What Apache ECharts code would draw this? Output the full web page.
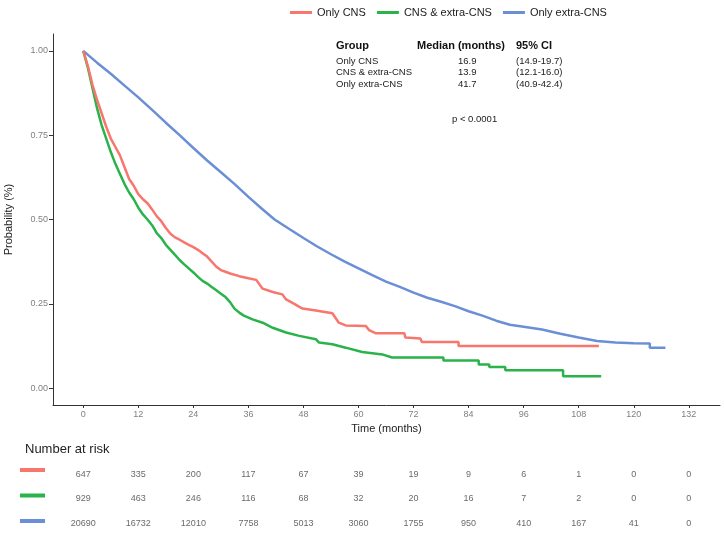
<!DOCTYPE html>
<html>
<head>
<meta charset="utf-8">
<script src="https://cdn.jsdelivr.net/npm/echarts@6/dist/echarts.min.js"></script>
<style>
  html, body { margin: 0; padding: 0; background: #fff; }
  #main { width: 724px; height: 537px; }
</style>
</head>
<body>
<div id="main"></div>
<script>
// group names and colours
const groupNames = ['Only CNS', 'CNS & extra-CNS', 'Only extra-CNS'];
const groupColors = ['#F8766D', '#2AB34A', '#6B8FD6'];

// survival curves [months, probability]
const onlyCns = [
  [0, 1], [1, 0.955], [2, 0.90], [3, 0.855], [4, 0.815], [5, 0.775], [6, 0.74], [7, 0.715],
  [8, 0.69], [9, 0.655], [10, 0.62], [11, 0.60], [12, 0.575], [13, 0.56], [14, 0.548],
  [15, 0.53], [16, 0.51], [17, 0.495], [18, 0.475], [19, 0.458], [20, 0.447], [21, 0.44],
  [22, 0.432], [23, 0.425], [24, 0.418], [25, 0.41], [26, 0.40], [27, 0.39], [28, 0.375],
  [29, 0.36], [30, 0.35], [31, 0.345], [32, 0.34], [34, 0.332], [36, 0.326], [37.7, 0.321],
  [39.1, 0.295], [41.3, 0.285], [43.4, 0.278], [44.2, 0.263], [46, 0.25], [47.1, 0.241],
  [47.8, 0.236], [50.7, 0.23], [54.3, 0.222], [55.7, 0.194], [57.2, 0.186], [61.6, 0.184],
  [62.3, 0.172], [63.7, 0.163], [70, 0.163], [70.2, 0.15], [73.5, 0.147], [73.8, 0.137],
  [81.8, 0.137], [81.8, 0.125], [112.4, 0.125]
];
const cnsExtra = [
  [0, 1], [1, 0.95], [2, 0.89], [3, 0.83], [4, 0.78], [5, 0.74], [6, 0.70], [7, 0.665],
  [8, 0.635], [9, 0.605], [10, 0.58], [11, 0.56], [12, 0.535], [13, 0.515], [14, 0.50],
  [15, 0.483], [16, 0.46], [17, 0.445], [18, 0.425], [19, 0.41], [20, 0.395], [21, 0.38],
  [22, 0.367], [23, 0.355], [24, 0.343], [25, 0.33], [26, 0.318], [27, 0.31], [28, 0.30],
  [29, 0.29], [30, 0.28], [31, 0.27], [32, 0.255], [33, 0.235], [34, 0.224], [35, 0.215],
  [36.9, 0.204], [39.1, 0.194], [41.3, 0.179], [44.2, 0.165], [47.1, 0.155], [50.7, 0.145],
  [51.4, 0.135], [54.3, 0.13], [57.2, 0.12], [60.8, 0.107], [65.2, 0.10], [67.3, 0.091],
  [78.5, 0.091], [78.5, 0.082], [86.2, 0.082], [86.2, 0.07], [88.5, 0.07], [88.5, 0.063],
  [92, 0.063], [92, 0.053], [104.6, 0.053], [104.6, 0.035], [112.9, 0.035]
];
const onlyExtra = [
  [0, 1], [3, 0.965], [6, 0.932], [9, 0.897], [12, 0.862], [15, 0.825], [18, 0.787],
  [21, 0.75], [24, 0.712], [27, 0.675], [30, 0.64], [33, 0.605], [36, 0.567], [39, 0.531],
  [41.7, 0.5], [45, 0.471], [48, 0.445], [51, 0.42], [54, 0.397], [57, 0.375], [60, 0.355],
  [63, 0.335], [66, 0.316], [69, 0.30], [72, 0.283], [75, 0.268], [78, 0.256], [81, 0.243],
  [84, 0.228], [87, 0.215], [90, 0.20], [93, 0.188], [96, 0.182], [100, 0.174], [104, 0.161],
  [108, 0.15], [112, 0.14], [116, 0.135], [120, 0.133], [123.5, 0.132], [123.5, 0.12],
  [126.9, 0.12]
];

// axis ticks
const xTicks = [0, 12, 24, 36, 48, 60, 72, 84, 96, 108, 120, 132];
const yTicks = [0, 0.25, 0.5, 0.75, 1];

// number at risk, one value per x tick
const riskOnlyCns = [647, 335, 200, 117, 67, 39, 19, 9, 6, 1, 0, 0];
const riskCnsExtra = [929, 463, 246, 116, 68, 32, 20, 16, 7, 2, 0, 0];
const riskOnlyExtra = [20690, 16732, 12010, 7758, 5013, 3060, 1755, 950, 410, 167, 41, 0];

// median table
const medians = ['16.9', '13.9', '41.7'];
const ciTexts = ['(14.9-19.7)', '(12.1-16.0)', '(40.9-42.4)'];
const pText = 'p < 0.0001';

const FONT = 'Liberation Sans, Arial, sans-serif';
const chart = echarts.init(document.getElementById('main'));

const curveSeries = [onlyCns, cnsExtra, onlyExtra].map((d, i) => ({
  name: groupNames[i],
  type: 'line',
  xAxisIndex: 0,
  yAxisIndex: 0,
  data: d,
  showSymbol: false,
  symbol: 'none',
  lineStyle: {width: 2.5, color: groupColors[i]},
  itemStyle: {color: groupColors[i]},
  silent: true,
  z: 3 - i
}));

const riskSeries = [riskOnlyCns, riskCnsExtra, riskOnlyExtra].map((r, row) => ({
  type: 'scatter',
  xAxisIndex: 1,
  yAxisIndex: 1,
  symbolSize: 1,
  itemStyle: {color: 'transparent'},
  data: r.map((n, k) => [xTicks[k], row, n]),
  label: {
    show: true,
    position: 'inside',
    formatter: p => String(p.value[2]),
    fontSize: 9,
    fontFamily: FONT,
    color: '#444'
  },
  silent: true
}));

// median table text
const tableGraphics = [];
const headStyle = {fontSize: 11, fontWeight: 'bold', fontFamily: FONT, fill: '#111', textVerticalAlign: 'middle'};
const rowStyle = {fontSize: 9.5, fontFamily: FONT, fill: '#222', textVerticalAlign: 'middle'};
tableGraphics.push({type: 'text', left: 336, top: 40, style: Object.assign({text: 'Group'}, headStyle)});
tableGraphics.push({type: 'text', left: 417, top: 40, style: Object.assign({text: 'Median (months)'}, headStyle)});
tableGraphics.push({type: 'text', left: 516, top: 40, style: Object.assign({text: '95% CI'}, headStyle)});
groupNames.forEach((g, i) => {
  const y = 56 + i * 11.6;
  tableGraphics.push({type: 'text', left: 336, top: y, style: Object.assign({text: g}, rowStyle)});
  tableGraphics.push({type: 'text', left: 458, top: y, style: Object.assign({text: medians[i]}, rowStyle)});
  tableGraphics.push({type: 'text', left: 516, top: y, style: Object.assign({text: ciTexts[i]}, rowStyle)});
});
tableGraphics.push({type: 'text', left: 452, top: 114, style: Object.assign({text: pText}, rowStyle)});

// risk table title and colour keys
tableGraphics.push({
  type: 'text', left: 25, top: 443,
  style: {text: 'Number at risk', fontSize: 13, fontFamily: FONT, fill: '#222'}
});
groupColors.forEach((c, i) => {
  tableGraphics.push({type: 'rect', shape: {x: 20, y: 468 + i * 25.5, width: 25, height: 4}, style: {fill: c}});
});

const option = {
  backgroundColor: '#fff',
  animation: false,
  legend: {
    data: groupNames,
    top: 2,
    left: 285,
    icon: 'rect',
    itemWidth: 22,
    itemHeight: 3,
    itemGap: 11,
    textStyle: {fontSize: 11, fontFamily: FONT, color: '#222'}
  },
  grid: [
    {left: 53, right: 4, top: 34, height: 371, outerBoundsMode: 'none', containLabel: false},
    {left: 53, right: 4, top: 462, height: 73.5, outerBoundsMode: 'none', containLabel: false}
  ],
  xAxis: [
    {
      type: 'value',
      gridIndex: 0,
      min: -6.6,
      max: 138.8,
      name: 'Time (months)',
      nameLocation: 'middle',
      nameGap: 18,
      nameTextStyle: {fontSize: 11, fontFamily: FONT, color: '#222'},
      axisLine: {onZero: false, lineStyle: {color: '#333', width: 1}},
      axisTick: {show: true, length: 3, customValues: xTicks, lineStyle: {color: '#333'}},
      axisLabel: {customValues: xTicks, fontSize: 9, fontFamily: FONT, color: '#808080', margin: 5},
      splitLine: {show: false}
    },
    {
      type: 'value',
      gridIndex: 1,
      min: -6.6,
      max: 138.8,
      show: false
    }
  ],
  yAxis: [
    {
      type: 'value',
      gridIndex: 0,
      min: -0.05,
      max: 1.05,
      name: 'Probability (%)',
      nameLocation: 'middle',
      nameGap: 39,
      nameTextStyle: {fontSize: 11, fontFamily: FONT, color: '#222'},
      axisLine: {show: true, onZero: false, lineStyle: {color: '#333', width: 1}},
      axisTick: {show: true, length: 4, customValues: yTicks, lineStyle: {color: '#333'}},
      axisLabel: {
        customValues: yTicks,
        formatter: v => v.toFixed(2),
        fontSize: 9,
        fontFamily: FONT,
        color: '#808080',
        margin: 5
      },
      splitLine: {show: false}
    },
    {
      type: 'value',
      gridIndex: 1,
      min: -0.5,
      max: 2.5,
      inverse: true,
      show: false
    }
  ],
  graphic: tableGraphics,
  series: curveSeries.concat(riskSeries)
};

chart.setOption(option);
</script>
</body>
</html>
